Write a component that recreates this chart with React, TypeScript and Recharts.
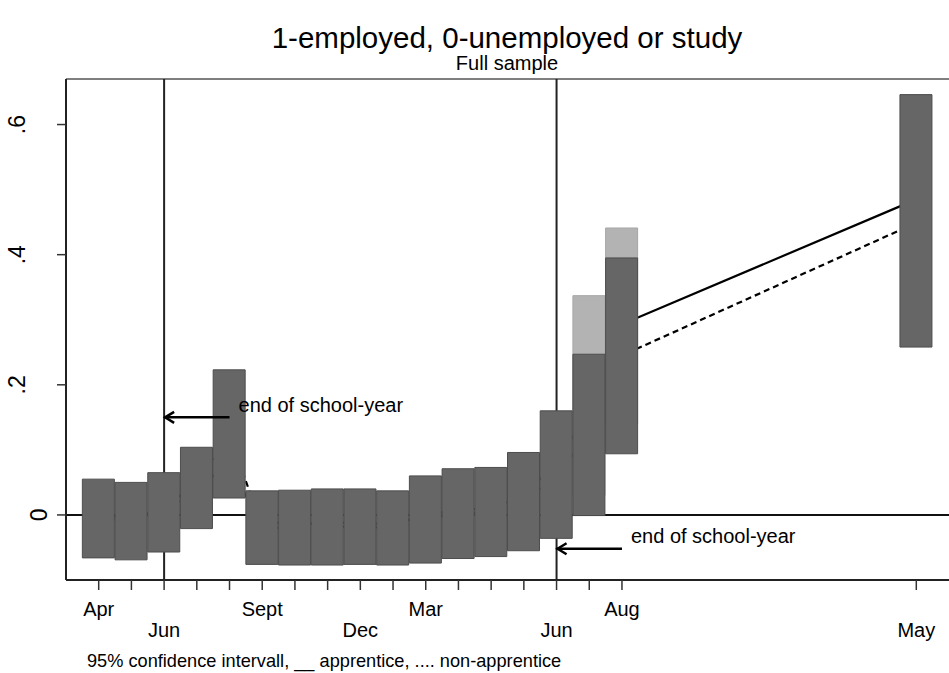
import { ComposedChart, Bar, Line, XAxis, YAxis, ReferenceLine } from "recharts";

// month index: 0 = Apr (first year) ... 16 = Aug (second year), 25 = May
const MONTHS = [0, 1, 2, 3, 4, 5, 6, 7, 8, 9, 10, 11, 12, 13, 14, 15, 16, 25];
const TICK_LABELS = ["Apr", "", "Jun", "", "", "Sept", "", "", "Dec", "", "Mar", "", "", "", "Jun", "", "Aug", "May"];

// 95% confidence interval (dark bars)
const CI_LOW = [-0.066, -0.069, -0.057, -0.021, 0.026, -0.076, -0.077, -0.077, -0.076, -0.077, -0.074, -0.067, -0.064, -0.055, -0.036, -0.001, 0.094, 0.258];
const CI_HIGH = [0.055, 0.05, 0.065, 0.104, 0.223, 0.037, 0.038, 0.04, 0.04, 0.037, 0.06, 0.071, 0.073, 0.096, 0.16, 0.247, 0.395, 0.646];
// second interval, only visible where it sticks out above the dark one
const CI2_LOW = [null, null, null, null, null, null, null, null, null, null, null, null, null, null, null, 0.03, 0.14, null];
const CI2_HIGH = [null, null, null, null, null, null, null, null, null, null, null, null, null, null, null, 0.337, 0.441, null];

const APPRENTICE = [0.0, -0.005, 0.01, 0.05, 0.07, -0.01, -0.015, -0.012, -0.012, -0.015, 0.0, 0.008, 0.01, 0.03, 0.08, 0.16, 0.293, 0.485];
const NON_APPRENTICE = [-0.005, -0.01, 0.004, 0.042, 0.124, -0.02, -0.02, -0.018, -0.018, -0.02, -0.007, 0.002, 0.005, 0.02, 0.062, 0.123, 0.245, 0.449];

const Y_TICKS = [0, 0.2, 0.4, 0.6];
const SCHOOL_END = [2, 14];
const ARROW_FROM = [4, 16];
const ARROW_Y = [0.15, -0.052];
const ARROW_TEXT = "end of school-year";

const FONT = "'Liberation Sans', Arial, Helvetica, sans-serif";

const data = MONTHS.map((t, i) => ({
  t,
  ci: [CI_LOW[i], CI_HIGH[i]],
  ci2: CI2_LOW[i] == null ? null : [CI2_LOW[i], CI2_HIGH[i]],
  appr: APPRENTICE[i],
  nonappr: NON_APPRENTICE[i],
}));

const labeled = MONTHS.filter((_, i) => TICK_LABELS[i] !== "");

function XTick(props: any) {
  const { x, y, payload } = props;
  const i = MONTHS.indexOf(payload.value);
  const label = TICK_LABELS[i];
  if (!label) return null;
  const row = labeled.indexOf(payload.value) % 2;
  return (
    <text x={x} y={y + (row ? 47 : 26)} textAnchor="middle" fontSize={20} fontFamily={FONT} fill="#000">
      {label}
    </text>
  );
}

function YTick(props: any) {
  const { x, y, payload } = props;
  const v = payload.value;
  const label = v === 0 ? "0" : String(v).replace(/^0/, "");
  const bx = v === 0 ? x - 10 : x - 32;
  return (
    <text
      x={bx}
      y={y}
      transform={`rotate(-90 ${bx} ${y})`}
      textAnchor="middle"
      fontSize={23}
      fontFamily={FONT}
      fill="#000"
    >
      {label}
    </text>
  );
}

function arrowShape(p: any) {
  const { x1, y1, x2, y2 } = p;
  return (
    <g>
      <line x1={x1} y1={y1} x2={x2} y2={y2} stroke="#000" strokeWidth={2.5} />
      <polyline
        points={`${x2 + 10},${y2 - 5.5} ${x2 + 1},${y2} ${x2 + 10},${y2 + 5.5}`}
        fill="none"
        stroke="#000"
        strokeWidth={2.5}
      />
      <text x={x1 + 9} y={y1 - 5.5} fontSize={20} fontFamily={FONT} fill="#000">
        {ARROW_TEXT}
      </text>
    </g>
  );
}

export default function App() {
  return (
    <div style={{ position: "absolute", left: 0, top: 0, width: 949, height: 673, background: "#fff" }}>
      <ComposedChart width={949} height={673} data={data} margin={{ top: 79, right: 0, bottom: 0, left: 0 }}>
        <XAxis
          dataKey="t"
          type="number"
          domain={[-1, 26]}
          ticks={MONTHS}
          interval={0}
          allowDataOverflow
          height={93}
          tickSize={10}
          tickMargin={0}
          axisLine={{ stroke: "#222", strokeWidth: 2 }}
          tickLine={{ stroke: "#333", strokeWidth: 1.5 }}
          tick={<XTick />}
        />
        <XAxis xAxisId="light" dataKey="t" type="number" domain={[-1, 26]} ticks={MONTHS} allowDataOverflow hide />
        <YAxis
          type="number"
          domain={[-0.1, 0.67]}
          ticks={Y_TICKS}
          allowDataOverflow
          width={66}
          tickSize={9}
          tickMargin={0}
          axisLine={{ stroke: "#222", strokeWidth: 2 }}
          tickLine={{ stroke: "#333", strokeWidth: 1.5 }}
          tick={<YTick />}
        />

        <ReferenceLine y={0.67} stroke="#555" strokeWidth={1.5} zIndex={100} />
        <ReferenceLine y={0} stroke="#111" strokeWidth={2} zIndex={100} />
        {SCHOOL_END.map((t) => (
          <ReferenceLine key={t} x={t} stroke="#222" strokeWidth={2} zIndex={100} />
        ))}

        <Line
          dataKey="appr"
          type="linear"
          stroke="#000"
          strokeWidth={2.2}
          dot={false}
          activeDot={false}
          zIndex={200}
          isAnimationActive={false}
        />
        <Line
          dataKey="nonappr"
          type="linear"
          stroke="#000"
          strokeWidth={2.2}
          strokeDasharray="6 4"
          dot={false}
          activeDot={false}
          zIndex={200}
          isAnimationActive={false}
        />

        <Bar
          xAxisId="light"
          dataKey="ci2"
          barSize={32}
          fill="#b3b3b3"
          stroke="#a6a6a6"
          strokeWidth={1}
          zIndex={290}
          isAnimationActive={false}
        />
        <Bar
          dataKey="ci"
          barSize={32}
          fill="#666"
          stroke="#4d4d4d"
          strokeWidth={1}
          zIndex={300}
          isAnimationActive={false}
        />

        {ARROW_FROM.map((from, i) => (
          <ReferenceLine
            key={from}
            segment={[
              { x: from, y: ARROW_Y[i] },
              { x: SCHOOL_END[i], y: ARROW_Y[i] },
            ]}
            shape={arrowShape}
            zIndex={1000}
          />
        ))}
      </ComposedChart>

      <svg width={949} height={673} style={{ position: "absolute", left: 0, top: 0, pointerEvents: "none" }}>
        <text x={507} y={48} textAnchor="middle" fontSize={29.5} fontFamily={FONT} fill="#000">
          1-employed, 0-unemployed or study
        </text>
        <text x={507} y={70} textAnchor="middle" fontSize={20} fontFamily={FONT} fill="#000">
          Full sample
        </text>
        <text x={87} y={667} fontSize={18.2} fontFamily={FONT} fill="#000">
          95% confidence intervall, __ apprentice, .... non-apprentice
        </text>
      </svg>
    </div>
  );
}
